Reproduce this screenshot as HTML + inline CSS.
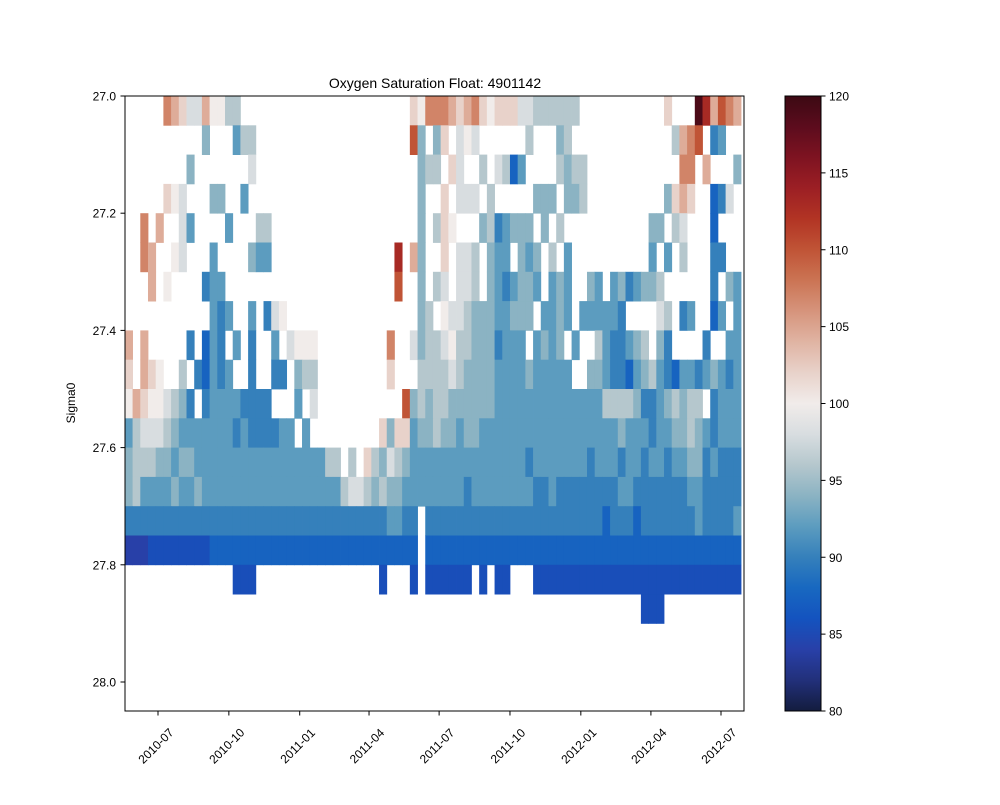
<!DOCTYPE html>
<html><head><meta charset="utf-8"><style>
html,body{margin:0;padding:0;background:#fff;}
svg text{font-family:"Liberation Sans","DejaVu Sans",sans-serif;fill:#000;}
</style></head><body>
<svg id="chart" width="1000" height="800" viewBox="0 0 1000 800">
<text x="435" y="88" text-anchor="middle" font-size="14">Oxygen Saturation Float: 4901142</text>
<g id="cells"></g>
<rect x="125" y="96" width="619" height="615" fill="none" stroke="#000" stroke-width="1"/>
<g id="xaxis"></g>
<g id="yaxis"></g>
<text x="0" y="0" font-size="12" text-anchor="middle" transform="translate(75,403) rotate(-90)">Sigma0</text>
<defs><linearGradient id="cbgrad" x1="0" y1="1" x2="0" y2="0"></linearGradient></defs>
<rect x="785" y="96" width="36" height="615" fill="url(#cbgrad)" stroke="#000" stroke-width="1"/>
<g id="cbaxis"></g>
</svg>
<script>
// ---- data ----
const codeValues = {A:84,B:85.5,C:87.5,D:90,E:92,F:94,G:96,H:98,I:100,J:102,K:104.5,L:107,M:110,N:113,O:119};
const sigmaBins = [27.0,27.05,27.1,27.15,27.2,27.25,27.3,27.35,27.4,27.45,27.5,27.55,27.6,27.65,27.7,27.75,27.8,27.85];
const rowsFirstHalf = [
".....LKJHHKIIGG......................JIL",
"..........F...EGG....................MF.",
"........F.......H.....................FG",
".....JIH...FF..E......................F.",
"..L.K..HE....E...GG...................F.",
"..LK..IH...E....FEE................N.KF.",
"...K.I....DEE......................M..F.",
"...........EDE..E.DHI.................FG",
"K.K.....D.CED.E.D..E.HIII.........L..HFG",
"J.KJI..G.DCEDE..D..DD.FGG.........J...GG",
"IKJIIHGFD.DEEEEDDDD...E.H...........MFGF",
"EGHHHGFEEEEEEEDEDDDDEE.E.........JFJJEFF",
"FGGGFFEFFEEEEEEEEEEEEEEEEEGG.G.JGFHGFEEE",
"FGEEEEFEEFEEEEEEEEEEEEEEEEEEGHHGFGFFEEEE",
"DDDDDDDDDDDDDDDDDDDDDDDDDDDDDDDDDDEEDD.D",
"AAABBBBBBBBCCCCCCCCCCCCCCCCCCCCCCCCCCC.C",
"..............BBB................B...B.B",
"........................................"];
const rowsSecondHalf = [
"LLKJKLJIJJJHHGGGGGG...........J...ONKMLK",
"FJ.HIH......G...FG.............GKLM.DE..",
"G.JH..G.HGCE....GFGG............LL.K...F",
".J.HHH.G.....FFF.FFG..........FJKJ..CDH.",
"GJI...FGDEFFF.F.G...........FF.GH...C...",
".J.HHG.FEE.FEF.G.E..........E.E.G...DD..",
"GH.HHG.FEDEFFE.EFE..FE.EFDEFFG......D.FE",
".IHHGFFFEEFFF.EEFE.EEEEED....HG.DE..CE.E",
"GHIGGFFFDEEE.EFEF.E..GEDDEFG.FD....D..EE",
"GGHGFFFFEEEEFEEEEE..FFEDDCEFGEDCEEDEFEDE",
"GGFFFFFFEEEEEEEEEEEEEEGGGGFDDEFGFGG.DEEE",
"GFFEFFEEEEEEEEEEEEEEEEEEFEEEDEEFFGFEDEEE",
"EEEEEEEEEEEEDEEEEEEEDEEEDEEDEEDEEFFDEDDD",
"EEEEDEEEEEEEEDDEDDDDDDDDEEDDDDDDDEEDDDDD",
"DDDDDDDDDDDDDDDDDDDDDDCDDDCDDDDDDDEDDDDE",
"CCCCCCCCCCCCCCCCCCCCCCCCCCCCCCCCCCCCCCCC",
"BBBBB.B.BB...BBBBBBBBBBBBBBBBBBBBBBBBBBB",
"...........................BBB.........."];
const firstProfileDate = "2010-05-19";
const cycleDays = 10;
const xTickLabels = ["2010-07","2010-10","2011-01","2011-04","2011-07","2011-10","2012-01","2012-04","2012-07"];
const yTickValues = [27.0,27.2,27.4,27.6,27.8,28.0];
const cbTickValues = [80,85,90,95,100,105,110,115,120];
const cmapValues = [80,82,84,86,88,90,92,94,96,98,100,102,104,106,108,110,112,114,116,118,120];
const cmapColors = ["#131c3e","#22307a","#2840a8","#1453bf","#1868c0","#3580bb","#5c9cbf","#8bb3c3","#b5c7cd","#d8dde0","#f1ecea","#e8d2ca","#e0b4a3","#d6947c","#cb7454","#c05436","#b23424","#9c1f24","#7e1321","#5c0c1d","#3c0913"];

// ---- scales ----
const NS="http://www.w3.org/2000/svg";
const DAY=86400000;
const t0=Date.parse("2010-07-01"), t1=Date.parse("2012-07-01");
function xScale(t){return 158+(t-t0)/(t1-t0)*(721-158);}
function yScale(s){return 96+(s-27.0)*586;}
function cbScale(v){return 711-(v-80)/40*615;}
function hex(c){return [parseInt(c.slice(1,3),16),parseInt(c.slice(3,5),16),parseInt(c.slice(5,7),16)];}
function color(v){
  if(v<=cmapValues[0])return cmapColors[0];
  for(let i=1;i<cmapValues.length;i++){
    if(v<=cmapValues[i]){
      const f=(v-cmapValues[i-1])/(cmapValues[i]-cmapValues[i-1]);
      const a=hex(cmapColors[i-1]),b=hex(cmapColors[i]);
      return "rgb("+a.map((x,k)=>Math.round(x+(b[k]-x)*f)).join(",")+")";
    }
  }
  return cmapColors[cmapColors.length-1];
}
function mk(tag,attrs,parent){const e=document.createElementNS(NS,tag);for(const k in attrs)e.setAttribute(k,attrs[k]);parent.appendChild(e);return e;}

// ---- cells ----
const cells=document.getElementById("cells");
const start=Date.parse(firstProfileDate);
sigmaBins.forEach((s,r)=>{
  const row=(rowsFirstHalf[r]+rowsSecondHalf[r]);
  const y0=yScale(s), y1=yScale(s+0.05);
  for(let i=0;i<row.length;i++){
    const ch=row[i];
    if(!(ch in codeValues))continue;
    const xa=xScale(start+i*cycleDays*DAY), xb=xScale(start+(i+1)*cycleDays*DAY);
    const c=mk("rect",{x:xa.toFixed(2),y:y0.toFixed(2),width:(xb-xa+0.4).toFixed(2),height:(y1-y0+0.4).toFixed(2),fill:color(codeValues[ch])},cells);
    
    
  }
});

// ---- x axis ----
const xa=document.getElementById("xaxis");
xTickLabels.forEach(lbl=>{
  const x=xScale(Date.parse(lbl+"-01"));
  const tk=mk("line",{x1:x,y1:711,x2:x,y2:715.5,stroke:"#000","stroke-width":1},xa);
  
  
  const t=mk("text",{x:0,y:4,"font-size":12,"text-anchor":"middle",transform:"translate("+(x-2)+",746) rotate(-45)"},xa);
  t.textContent=lbl;
  
  
});

// ---- y axis ----
const ya=document.getElementById("yaxis");
yTickValues.forEach(v=>{
  const y=yScale(v);
  const tk=mk("line",{x1:120.5,y1:y,x2:125,y2:y,stroke:"#000","stroke-width":1},ya);
  
  
  const t=mk("text",{x:116,y:y+4.5,"font-size":12,"text-anchor":"end"},ya);
  t.textContent=v.toFixed(1);
  
  
});

// ---- colorbar ----
const grad=document.getElementById("cbgrad");
cmapValues.forEach((v,i)=>{mk("stop",{offset:((v-80)/40*100)+"%","stop-color":cmapColors[i]},grad);});
const cba=document.getElementById("cbaxis");
cbTickValues.forEach(v=>{
  const y=cbScale(v);
  const tk=mk("line",{x1:821,y1:y,x2:825.5,y2:y,stroke:"#000","stroke-width":1},cba);
  
  
  const t=mk("text",{x:829,y:y+4.5,"font-size":12},cba);
  t.textContent=String(v);
  
  
});
</script>
</body></html>
